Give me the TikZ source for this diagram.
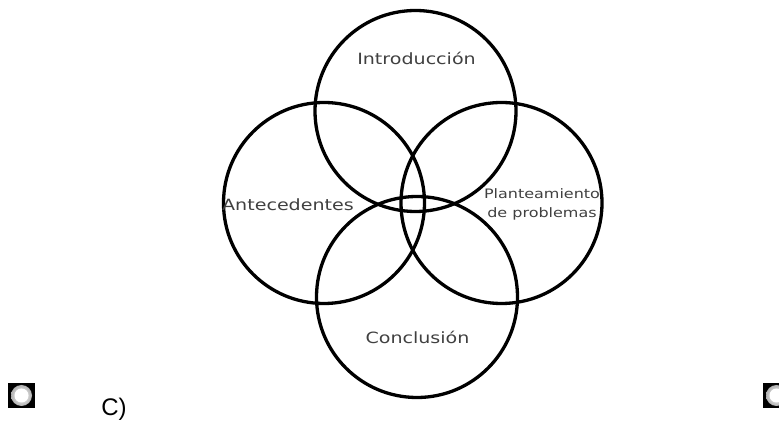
\documentclass[tikz,border=0pt]{standalone}
\usepackage{fontspec}
\setmainfont{Liberation Sans}
\newfontfamily\vennfont[FakeStretch=1.23]{DejaVu Sans}
\begin{document}
\begin{tikzpicture}[x=1pt,y=-1pt,
  venn/.style={circle,draw=black,line width=3.3pt,minimum size=201pt,inner sep=0pt},
  lbl/.style={font=\vennfont\fontsize{15.5}{18}\selectfont,text=black!75,inner sep=0pt},
  lblsmall/.style={font=\vennfont\fontsize{13}{19}\selectfont,text=black!75,inner sep=0pt,align=center},
  radio/.style={fill=black,draw=none}]
\useasboundingbox (0,0) rectangle (779,427);
\node[venn] (intro) at (415.5,111) {};
\node[venn] (ante) at (324,203) {};
\node[venn] (plan) at (501.5,203) {};
\node[venn] (conc) at (417,297) {};
\node[lbl] (tintro) at (416.5,58) {Introducción};
\node[lbl] (tante) at (288,205) {Antecedentes};
\node[lblsmall] (tplan) at (542,204) {Planteamiento\\de problemas};
\node[lbl] (tconc) at (417.5,337) {Conclusión};
\node[font=\fontsize{24}{28}\selectfont,inner sep=0pt] (tc) at (114,409) {C)};
% radio icons
\fill[radio] (8,383) rectangle (35,408);
\shade[inner color=white,outer color=gray!60] (21.5,395.5) circle (10.5);
\fill[white] (21.5,395.5) circle (7);
\fill[radio] (763,383) rectangle (779,408);
\shade[inner color=white,outer color=gray!60] (776.5,395.5) circle (10.5);
\fill[white] (776.5,395.5) circle (7);
\end{tikzpicture}
\end{document}
